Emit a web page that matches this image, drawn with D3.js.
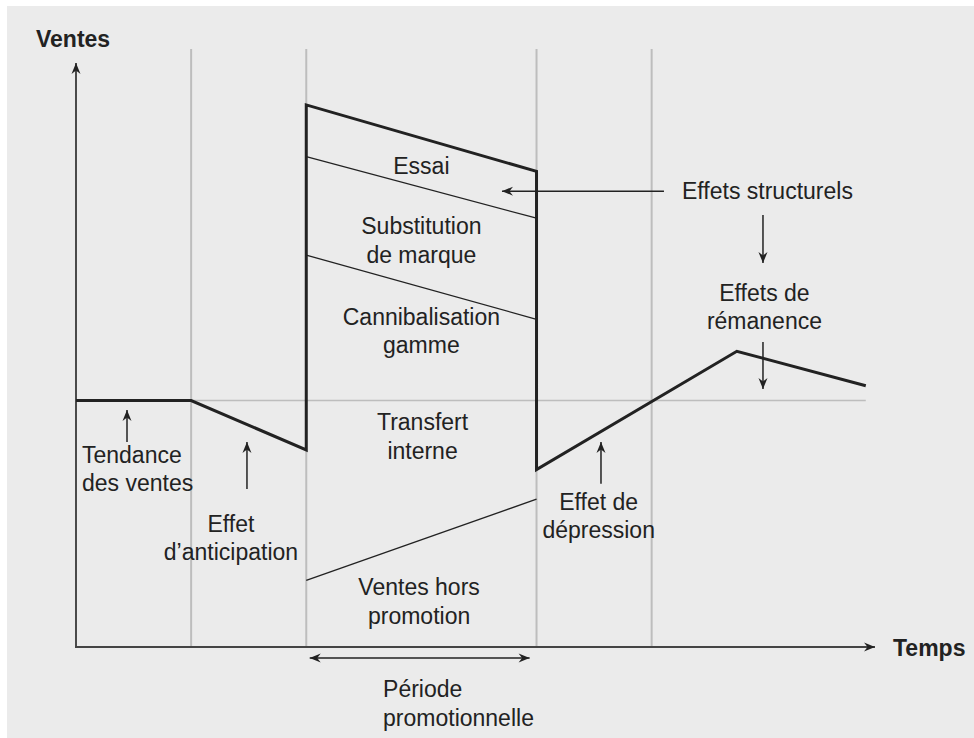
<!DOCTYPE html>
<html>
<head>
<meta charset="utf-8">
<script src="https://cdn.jsdelivr.net/npm/d3@7"></script>
<style>
  html, body { margin: 0; padding: 0; background: #fff; }
  svg { display: block; }
  text { font-family: "Liberation Sans", Arial, Helvetica, sans-serif; fill: #222; }
</style>
</head>
<body>
<svg id="chart" width="974" height="738"></svg>
<script>
// time in "phase" units, sales in arbitrary units (baseline trend = 100)
const phaseBounds = [1, 2, 4, 5];
const trendLevel = 100;
const timeEnd = 6.86;
const salesCurve = [
    {t: 0, v: 100}, {t: 1, v: 100}, {t: 2, v: 80}, {t: 2, v: 220},
    {t: 4, v: 193}, {t: 4, v: 72}, {t: 5.74, v: 120}, {t: 6.86, v: 106}
];
// thin lines splitting the promo uplift into layers
const layerLines = [
    [{t: 2, v: 199}, {t: 4, v: 174}],   // essai / substitution
    [{t: 2, v: 159}, {t: 4, v: 133}],   // substitution / cannibalisation
    [{t: 2, v: 27}, {t: 4, v: 60}]      // transfert / ventes hors promotion
];
const labels = [
    {lines: ["Essai"], t: 3, v: 192},
    {lines: ["Substitution", "de marque"], t: 3, v: 167.6},
    {lines: ["Cannibalisation", "gamme"], t: 3, v: 130.7},
    {lines: ["Transfert", "interne"], t: 3.01, v: 88},
    {lines: ["Ventes hors", "promotion"], t: 2.98, v: 21.1},
    {lines: ["Tendance", "des ventes"], t: 0.052, v: 74.7, anchor: "start"},
    {lines: ["Effet", "d\u2019anticipation"], t: 1.346, v: 46.8},
    {lines: ["Effet de", "d\u00e9pression"], t: 4.54, v: 55.6},
    {lines: ["Effets structurels"], t: 6.006, v: 181.8},
    {lines: ["Effets de", "r\u00e9manence"], t: 5.98, v: 140.5},
    {lines: ["P\u00e9riode", "promotionnelle"], t: 2.667, v: -20.3, anchor: "start"}
];
const pointers = [
    {t0: 0.443, v0: 83.2, t1: 0.443, v1: 96.2},
    {t0: 1.485, v0: 64.1, t1: 1.485, v1: 83.2},
    {t0: 4.56, v0: 66.2, t1: 4.56, v1: 83.2},
    {t0: 5.107, v0: 185, t1: 3.70, v1: 185},
    {t0: 5.967, v0: 175.3, t1: 5.967, v1: 155.8},
    {t0: 5.967, v0: 123.8, t1: 5.967, v1: 104.7}
];
const promoSpan = {t0: 2.03, t1: 3.94, v: -4.5};

const svg = d3.select("#chart");
const x = d3.scaleLinear().domain([0, 6.94]).range([76, 875]);
const y = d3.scaleLinear().domain([0, 237]).range([647, 63]);

svg.append("rect").attr("x", 7).attr("y", 6).attr("width", 967).attr("height", 732).attr("fill", "#ebebeb");

const defs = svg.append("defs");
defs.append("marker")
    .attr("id", "head")
    .attr("viewBox", "-12 -6 13 12")
    .attr("refX", 0).attr("refY", 0)
    .attr("markerUnits", "userSpaceOnUse")
    .attr("markerWidth", 13).attr("markerHeight", 12)
    .attr("orient", "auto-start-reverse")
    .append("path")
    .attr("d", "M0,0 L-11,-4.5 L-7.5,0 L-11,4.5 Z")
    .attr("fill", "#222");

// gray phase lines and trend line
svg.selectAll("line.phase").data(phaseBounds).join("line")
    .attr("class", "phase")
    .attr("x1", d => x(d)).attr("x2", d => x(d))
    .attr("y1", y(242.7)).attr("y2", y(0))
    .attr("stroke", "#bdbdbd").attr("stroke-width", 2);
svg.append("line")
    .attr("x1", x(0)).attr("x2", x(timeEnd))
    .attr("y1", y(trendLevel)).attr("y2", y(trendLevel))
    .attr("stroke", "#bdbdbd").attr("stroke-width", 1.5);

// axes
svg.append("line")
    .attr("x1", x(0)).attr("x2", x(0)).attr("y1", y(0)).attr("y2", y(237))
    .attr("stroke", "#222").attr("stroke-width", 1.6)
    .attr("marker-end", "url(#head)");
svg.append("line")
    .attr("x1", x(0) - 1).attr("x2", x(6.94)).attr("y1", y(0)).attr("y2", y(0))
    .attr("stroke", "#444").attr("stroke-width", 2)
    .attr("marker-end", "url(#head)");

const line = d3.line().x(d => x(d.t)).y(d => y(d.v));

svg.selectAll("path.layer").data(layerLines).join("path")
    .attr("class", "layer")
    .attr("d", line)
    .attr("fill", "none").attr("stroke", "#222").attr("stroke-width", 1.3);

svg.append("path")
    .attr("d", line(salesCurve))
    .attr("fill", "none").attr("stroke", "#222").attr("stroke-width", 3)
    .attr("stroke-linejoin", "miter");

// pointers
svg.selectAll("line.ptr").data(pointers).join("line")
    .attr("class", "ptr")
    .attr("x1", d => x(d.t0)).attr("y1", d => y(d.v0))
    .attr("x2", d => x(d.t1)).attr("y2", d => y(d.v1))
    .attr("stroke", "#222").attr("stroke-width", 1.5)
    .attr("marker-end", "url(#head)");
svg.append("line")
    .attr("x1", x(promoSpan.t0)).attr("x2", x(promoSpan.t1))
    .attr("y1", y(promoSpan.v)).attr("y2", y(promoSpan.v))
    .attr("stroke", "#222").attr("stroke-width", 1.5)
    .attr("marker-start", "url(#head)").attr("marker-end", "url(#head)");

// labels
const lh = 28.5;
svg.selectAll("text.lab").data(labels).join("text")
    .attr("class", "lab")
    .attr("font-size", 23)
    .attr("text-anchor", d => d.anchor || "middle")
    .each(function(d) {
        d3.select(this).selectAll("tspan").data(d.lines).join("tspan")
            .attr("x", x(d.t))
            .attr("y", (_, i) => y(d.v) + i * lh)
            .text(s => s);
    });

svg.append("text").attr("x", x(0) - 40).attr("y", y(237) - 16)
    .attr("font-size", 23).attr("font-weight", "bold").text("Ventes");
svg.append("text").attr("x", x(6.94) + 18).attr("y", y(0) + 9)
    .attr("font-size", 23).attr("font-weight", "bold").text("Temps");
</script>
</body>
</html>
